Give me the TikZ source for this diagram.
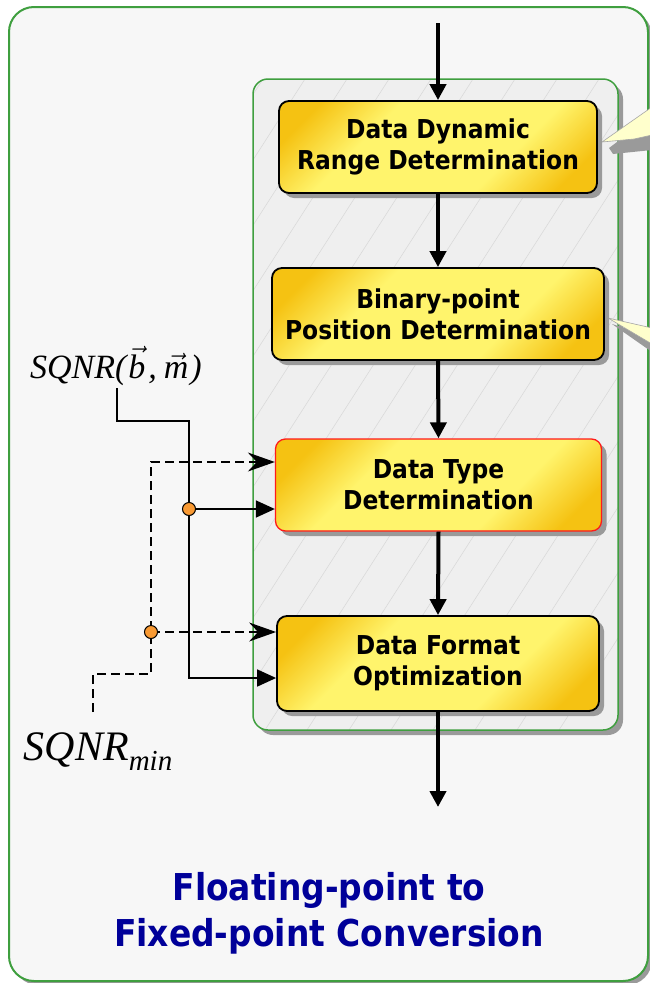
\documentclass[tikz,border=0pt]{standalone}
\usepackage{fix-cm}
\usepackage{fontspec}
\usetikzlibrary{arrows.meta,shadows}

\newfontfamily\boxfont{DejaVu Sans}[FakeStretch=0.9]
\newfontfamily\titlefont{DejaVu Sans}[FakeStretch=0.89]
\newfontfamily\serifface{Liberation Serif}

\definecolor{frameGreen}{HTML}{3F9F3F}
\definecolor{pageFill}{HTML}{F7F7F7}
\definecolor{panelFill}{HTML}{EFEFEF}
\definecolor{hatchGray}{HTML}{DADADA}
\definecolor{shadowGray}{HTML}{9A9A9A}
\definecolor{boxOrange}{HTML}{F5C212}
\definecolor{boxYellow}{HTML}{FFF46C}
\definecolor{alertRed}{HTML}{FF1A1A}
\definecolor{titleBlue}{HTML}{000099}
\definecolor{noteFill}{HTML}{FFFFCC}
\definecolor{dotOrange}{HTML}{F99A33}

\pgfdeclareverticalshading{boxgrad}{100bp}{%
  color(0bp)=(boxOrange); color(22bp)=(boxOrange);
  color(36bp)=(boxYellow); color(64bp)=(boxYellow);
  color(78bp)=(boxOrange); color(100bp)=(boxOrange)}

\tikzset{
  stage/.style={rounded corners=10pt, draw=black, line width=1.8pt,
    shading=boxgrad, shading angle=45, inner sep=0pt, align=center,
    font=\boxfont\bfseries\fontsize{26}{31}\selectfont,
    drop shadow={shadow xshift=5pt, shadow yshift=-5pt, fill=shadowGray, opacity=1}},
  flow/.style={line width=4pt, -{Triangle[length=16pt,width=16pt]}},
  feed/.style={line width=1.6pt, -{Triangle[length=19pt,width=17pt]}},
  limit/.style={line width=1.6pt, dash pattern=on 9pt off 5pt},
  limitarrow/.style={limit, -{Stealth[length=27pt,width=19pt,inset=9pt]}},
  tap/.style={circle, draw=black, line width=1pt, fill=dotOrange,
    minimum size=13pt, inner sep=0pt},
  mathlabel/.style={inner sep=2pt, font=\serifface\itshape\fontsize{34}{34}\selectfont},
  caption/.style={align=center, text=titleBlue,
    font=\titlefont\bfseries\fontsize{37}{46}\selectfont},
  note/.style={fill=noteFill, draw=gray!70, line width=0.6pt},
  noteshadow/.style={fill=shadowGray},
}

\begin{document}
\begin{tikzpicture}[x=1pt, y=-1pt]
\useasboundingbox (0,0) rectangle (650,983);

% outer frame
\fill[shadowGray, rounded corners=25pt] (13,11) rectangle (652,985);
\filldraw[fill=pageFill, draw=frameGreen, line width=2pt, rounded corners=25pt]
  (9,7) rectangle (648,981);

% inner panel with faint hatching
\fill[shadowGray, rounded corners=15pt] (258,84) rectangle (623,735);
\fill[panelFill, rounded corners=15pt] (253,79) rectangle (618,730);
\begin{scope}
  \clip[rounded corners=15pt] (253,79) rectangle (618,730);
  \foreach \k in {0,...,22} {
    \draw[hatchGray, line width=0.6pt] (-65+42*\k-300,730) -- (-65+42*\k-300+418,79);
  }
\end{scope}
\draw[frameGreen, line width=1.5pt, rounded corners=15pt] (253,79) rectangle (618,730);

% callouts at the right edge
\fill[noteshadow] (609,148) -- (652,116) -- (652,150) -- (613,154) -- cycle;
\filldraw[note] (602,142) -- (652,107) -- (652,135) -- (634,139) -- cycle;
\fill[noteshadow] (612,324) -- (652,337) -- (652,352) -- cycle;
\filldraw[note] (608,318) -- (652,328) -- (652,344) -- cycle;

% processing stages
\node[stage, minimum width=318pt, minimum height=92pt] (range) at (438,147)
  {Data Dynamic\\Range Determination};
\node[stage, minimum width=332pt, minimum height=92pt] (binpt) at (438,314)
  {Binary-point\\Position Determination};
\node[stage, draw=alertRed, line width=1.3pt, minimum width=326pt, minimum height=92pt]
  (dtype) at (438.5,485) {Data Type\\Determination};
\node[stage, minimum width=322pt, minimum height=95pt] (dformat) at (438,663.5)
  {Data Format\\Optimization};

% main flow
\coordinate (flowIn) at (438,23);
\coordinate (flowOut) at (438,807);
\draw[flow] (flowIn) -- (range.north);
\draw[flow] (range.south) -- (binpt.north);
\draw[flow] (binpt.south) -- (dtype.north);
\draw[flow] (dtype.south) -- (dformat.north);
\draw[flow] (dformat.south) -- (flowOut);

% side inputs
\node[mathlabel] (sqnr) at (116,366)
  {SQNR(\kern2pt$\vec{\mbox{b}}$\kern3pt,\kern7pt$\vec{\mbox{m}}$\kern2pt)};
\node[mathlabel, font=\serifface\itshape\fontsize{42}{42}\selectfont] (sqnrmin) at (98,752)
  {SQNR\raisebox{-10pt}{\fontsize{29}{29}\selectfont min}};

\coordinate (bend) at (189,421);
\coordinate (tapA) at (189,509);
\draw[feed] (sqnr.south -| 117,0) |- (bend) |- ([yshift=-14.5pt]dformat.west);
\draw[feed] (tapA) -- (tapA -| dtype.west);

\coordinate (minTap) at (93,712);
\coordinate (minBend) at (151,674);
\coordinate (tapB) at (151,632);
\draw[limitarrow] (minTap) |- (minBend) |- ([yshift=23pt]dtype.west);
\draw[limitarrow] (tapB) -- (tapB -| dformat.west);

\node[tap] (dotA) at (tapA) {};
\node[tap] (dotB) at (tapB) {};

% caption
\node[caption] (title) at (329,913) {Floating-point to\\Fixed-point Conversion};
\end{tikzpicture}
\end{document}
